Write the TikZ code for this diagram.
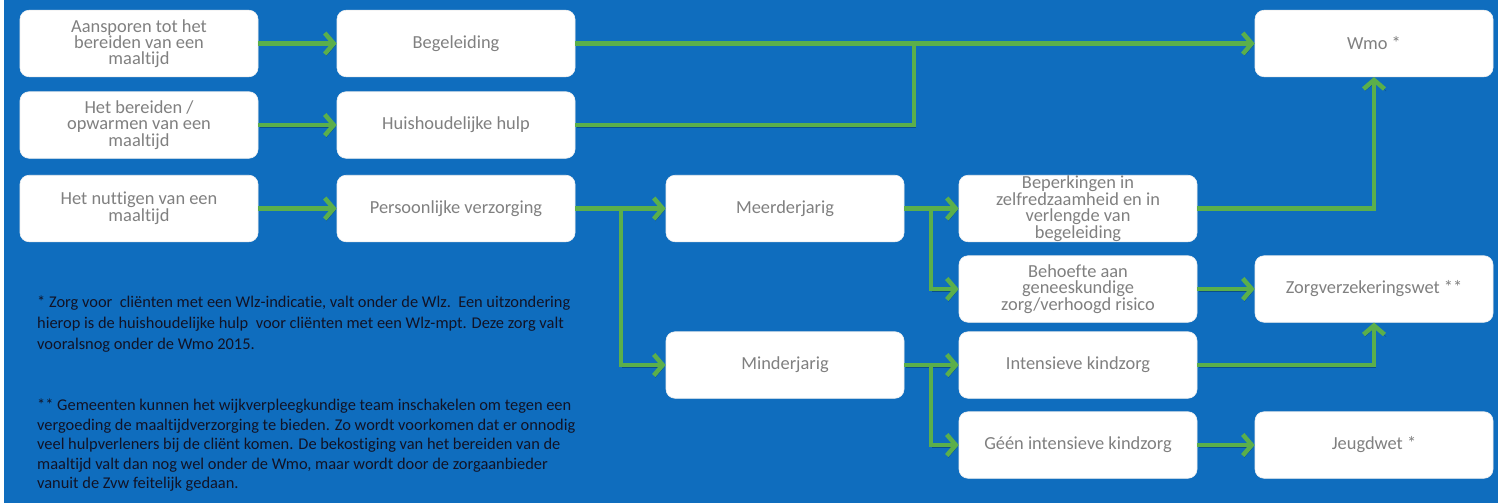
\documentclass[tikz,border=0pt]{standalone}
\usepackage{fontspec}
\setmainfont{Carlito}[Ligatures=NoCommon]
\usetikzlibrary{arrows.meta}
\definecolor{bg}{HTML}{0F6DBE}
\definecolor{gr}{HTML}{5BAF4B}
\definecolor{tx}{HTML}{808080}
\definecolor{fn}{HTML}{111326}
\begin{document}
\begin{tikzpicture}[x=1pt,y=-1pt,
  box/.style={draw=white!88!gray, line width=0.6pt, fill=white, rounded corners=9pt,
    minimum width=238pt, minimum height=66.5pt, inner sep=0pt, align=center,
    text=tx, font=\fontsize{18.4}{15.7}\selectfont},
  conn/.style={draw=gr, line width=4.5pt,
    preaction={draw=black, opacity=0.28, transform canvas={shift={(1.5pt,-2pt)}}}},
  arr/.style={conn, -{Straight Barb[length=9pt,width=21pt]}},
  note/.style={anchor=north west, align=left, inner sep=0pt, text=fn}]
\useasboundingbox (0,0) rectangle (1504,503);
\fill[white] (0,0) rectangle (1504,503);
\fill[bg] (4,0) rectangle (1498,503);

% column 1
\node[box] (a1) at (139,43.5) {Aansporen tot het\\bereiden van een\\maaltijd};
\node[box] (a2) at (139,125) {Het bereiden /\\opwarmen van een\\maaltijd};
\node[box] (a3) at (139,208.5) {Het nuttigen van een\\maaltijd};
% column 2
\node[box] (b1) at (456,43.5) {Begeleiding};
\node[box] (b2) at (456,125) {Huishoudelijke hulp};
\node[box] (b3) at (456,208.5) {Persoonlijke verzorging};
% column 3
\node[box] (m1) at (785,208.5) {Meerderjarig};
\node[box] (m2) at (785,365) {Minderjarig};
% column 4
\node[box] (c1) at (1078,208.5) {Beperkingen in\\zelfredzaamheid en in\\verlengde van\\begeleiding};
\node[box] (c2) at (1078,289) {Behoefte aan\\geneeskundige\\zorg/verhoogd risico};
\node[box] (c3) at (1078,365) {Intensieve kindzorg};
\node[box] (c4) at (1078,445) {Géén intensieve kindzorg};
% column 5
\node[box] (d1) at (1374,43.5) {Wmo *};
\node[box] (d2) at (1374,289) {Zorgverzekeringswet **};
\node[box] (d3) at (1374,445) {Jeugdwet *};

% junctions
\coordinate (j1) at (914,43.5);
\coordinate (j2) at (621,208.5);
\coordinate (j3) at (931,208.5);
\coordinate (j4) at (931,365);

% connectors
\draw[arr] (a1) -- (b1);
\draw[arr] (a2) -- (b2);
\draw[arr] (a3) -- (b3);
\draw[conn] (b2.east) -| (j1);
\draw[arr] (b1) -- (d1);
\draw[arr] (b3) -- (m1);
\draw[arr] (j2) |- (m2.west);
\draw[arr] (m1) -- (c1);
\draw[arr] (j3) |- (c2.west);
\draw[arr] (m2) -- (c3);
\draw[arr] (j4) |- (c4.west);
\draw[arr] (c1.east) -| (d1.south);
\draw[arr] (c2) -- (d2);
\draw[arr] (c3.east) -| (d2.south);
\draw[arr] (c4) -- (d3);

% footnotes
\node[note, font=\fontsize{16.4}{21}\selectfont] (n1) at (37,296) {* Zorg voor\ \ cliënten met een Wlz-indicatie, valt onder de Wlz.\ \ Een uitzondering\\hierop is de huishoudelijke hulp\ \ voor cliënten met een Wlz-mpt. Deze zorg valt\\vooralsnog onder de Wmo 2015.};
\node[note, font=\fontsize{16.4}{19.5}\selectfont] (n2) at (37,399) {** Gemeenten kunnen het wijkverpleegkundige team inschakelen om tegen een\\vergoeding de maaltijdverzorging te bieden. Zo wordt voorkomen dat er onnodig\\veel hulpverleners bij de cliënt komen. De bekostiging van het bereiden van de\\maaltijd valt dan nog wel onder de Wmo, maar wordt door de zorgaanbieder\\vanuit de Zvw feitelijk gedaan.};
\end{tikzpicture}
\end{document}
